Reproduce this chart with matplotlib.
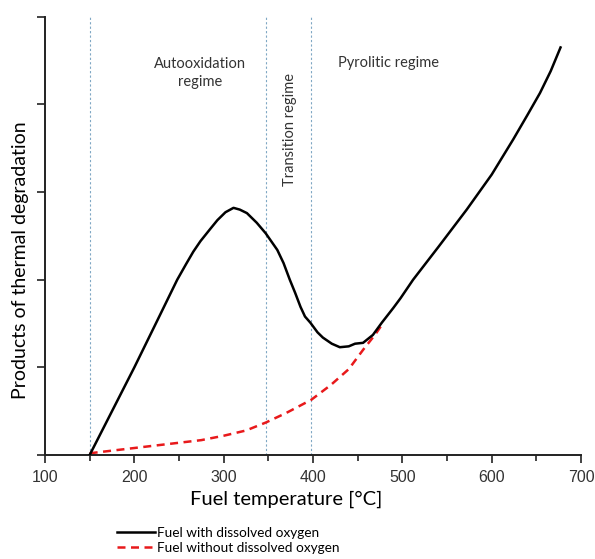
import numpy as np
import matplotlib.pyplot as plt
from matplotlib.ticker import MultipleLocator, NullFormatter

# curve (arbitrary y units, 0..5)
temp_oxy = [150, 175, 200, 225, 248, 258, 266, 274, 285, 293, 302, 311, 318, 326, 337, 347,
            360, 367, 374, 380, 386, 391, 397, 405, 411, 421, 430, 440, 447, 456, 467, 477,
            490, 498, 512, 540, 572, 600, 624, 640, 654, 666, 677]
prod_oxy = [0.0, 0.5, 1.0, 1.52, 2.0, 2.18, 2.32, 2.44, 2.58, 2.68, 2.77, 2.82, 2.80, 2.76, 2.65, 2.53,
            2.34, 2.19, 2.0, 1.85, 1.69, 1.58, 1.51, 1.40, 1.34, 1.27, 1.23, 1.24, 1.27, 1.28, 1.37, 1.51,
            1.68, 1.79, 2.0, 2.37, 2.8, 3.2, 3.6, 3.88, 4.13, 4.38, 4.65]

temp_no = [150, 175, 200, 225, 250, 275, 300, 325, 347, 370, 398, 420, 440, 456, 470, 478]
prod_no = [0.02, 0.05, 0.08, 0.11, 0.14, 0.17, 0.22, 0.28, 0.37, 0.48, 0.63, 0.8, 0.98, 1.2, 1.38, 1.5]

regime_bounds = [150, 347, 398]

plt.rcParams['font.family'] = ['Lato', 'DejaVu Sans']

fig = plt.figure(figsize=(5.95, 5.59), dpi=100)
ax = fig.add_axes([0.0756, 0.186, 0.901, 0.784])

for xb in regime_bounds:
    ax.axvline(xb, color='#7fa7c4', lw=0.8, ls=(0, (2, 2)), zorder=1)

l1, = ax.plot(temp_oxy, prod_oxy, color='black', lw=1.8, zorder=3)
l2, = ax.plot(temp_no, prod_no, color='#e8191b', lw=1.8, ls=(0, (3.2, 2.2)), zorder=2)

ax.set_xlim(100, 700)
ax.set_ylim(0, 5)
ax.xaxis.set_major_locator(MultipleLocator(100))
ax.xaxis.set_minor_locator(MultipleLocator(50))
ax.yaxis.set_major_locator(MultipleLocator(1))
ax.yaxis.set_major_formatter(NullFormatter())
ax.tick_params(axis='both', which='major', length=6, width=1.2, color='#222222')
ax.tick_params(axis='x', which='major', pad=5)
ax.tick_params(axis='x', which='minor', length=4, width=1.2, color='#222222')
for lab in ax.get_xticklabels():
    lab.set_fontfamily('Liberation Sans')
    lab.set_fontsize(11.5)
    lab.set_color('#333333')

for s in ['top', 'right']:
    ax.spines[s].set_visible(False)
for s in ['left', 'bottom']:
    ax.spines[s].set_linewidth(1.4)
    ax.spines[s].set_color('#222222')

ax.set_xlabel('Fuel temperature [°C]', fontsize=14.5)
ax.set_ylabel('Products of thermal degradation', fontsize=14)
ax.xaxis.set_label_coords(0.45, -0.082)
ax.yaxis.set_label_coords(-0.03, 0.445)

ax.text(273.6, 4.36, 'Autooxidation\nregime', ha='center', va='center', fontsize=10.5,
        color='#333333', linespacing=1.4)
ax.text(374, 3.71, 'Transition regime', ha='center', va='center', rotation=90,
        fontsize=10.5, color='#333333')
ax.text(484, 4.47, 'Pyrolitic regime', ha='center', va='center', fontsize=10.5,
        color='#333333')

fig.legend([l1, l2], ['Fuel with dissolved oxygen', 'Fuel without dissolved oxygen'],
           loc='upper left', bbox_to_anchor=(0.197, 0.058), frameon=False,
           fontsize=9.8, handlelength=2.8, handletextpad=0.15, labelspacing=0.25,
           borderpad=0, borderaxespad=0)

fig.savefig('out.png', dpi=100)
